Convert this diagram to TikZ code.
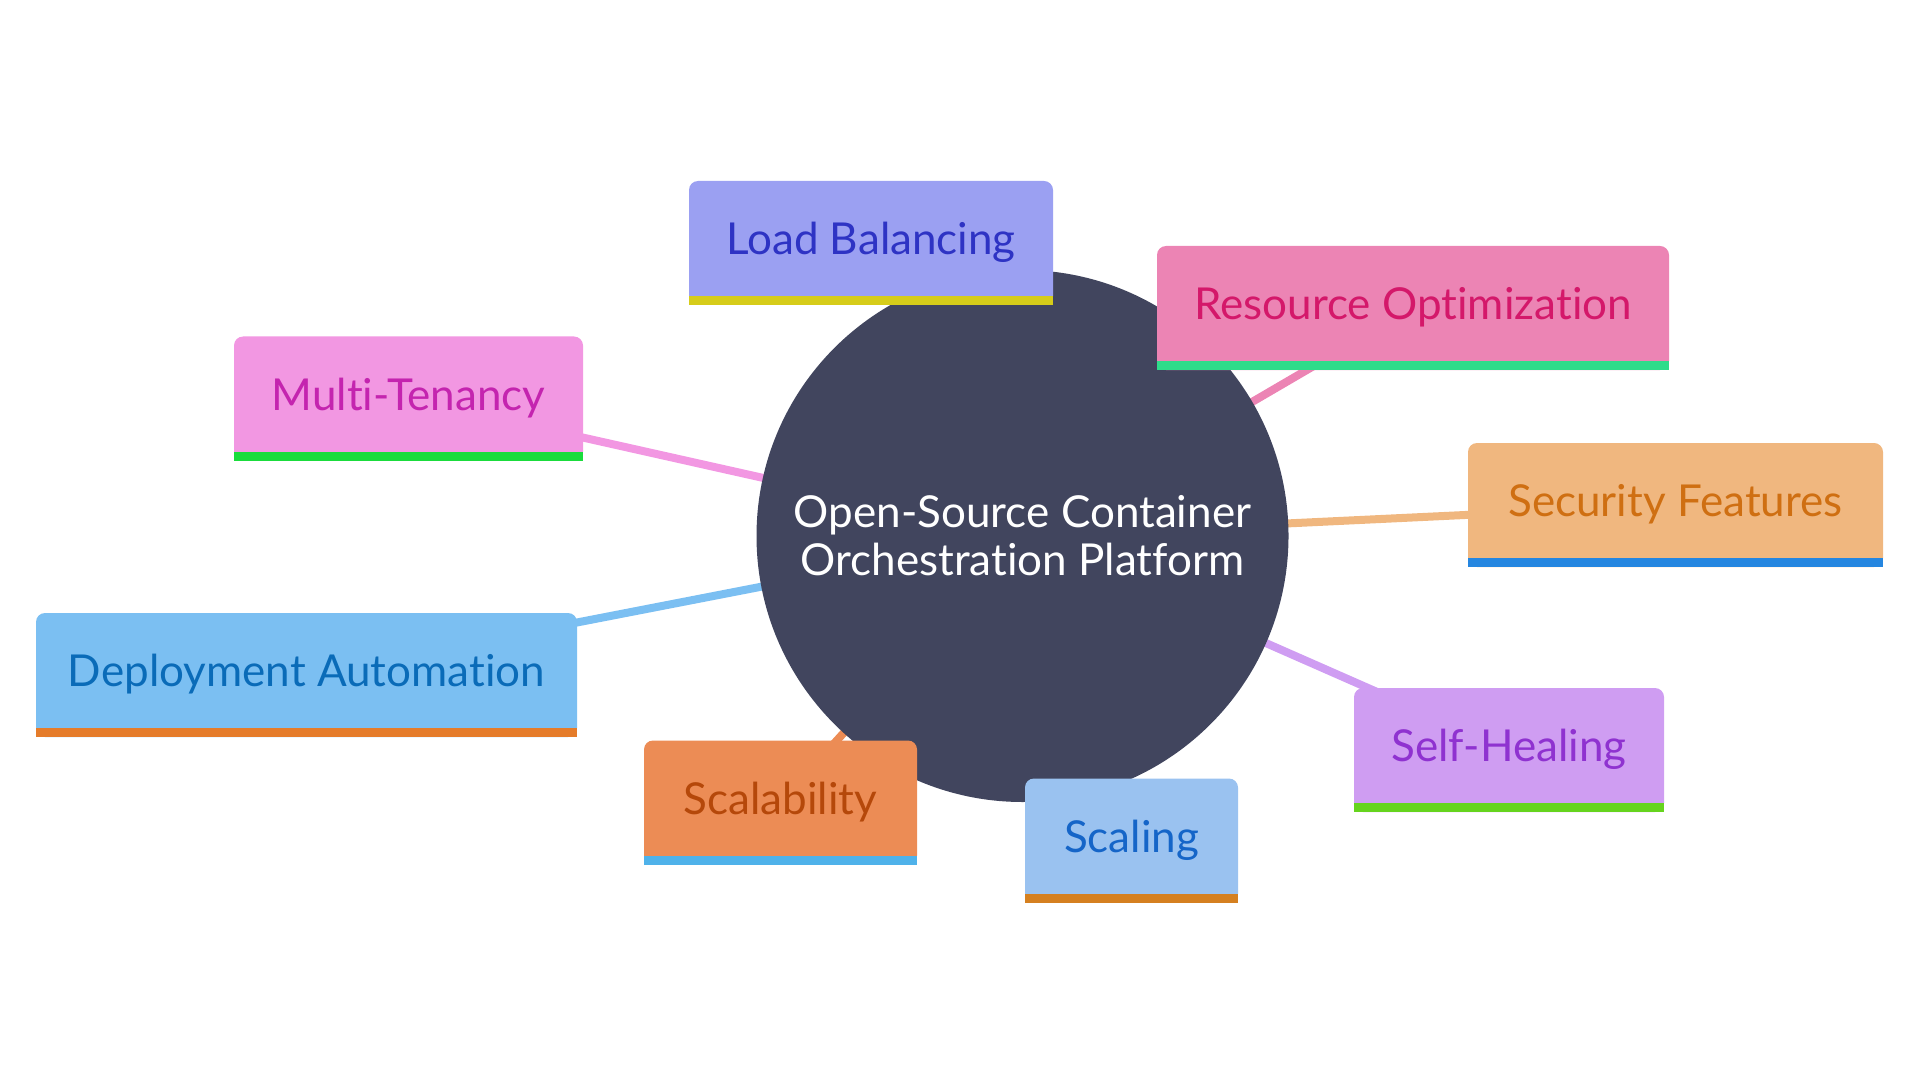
\documentclass[tikz,border=0pt]{standalone}
\usepackage{fontspec}
\setmainfont{Lato}[Ligatures=NoCommon]
\usetikzlibrary{backgrounds}
\definecolor{hubC}{RGB}{65,69,94}
\definecolor{lbF}{RGB}{155,160,242}\definecolor{lbT}{RGB}{46,51,196}\definecolor{lbB}{RGB}{214,204,26}
\definecolor{roF}{RGB}{236,132,180}\definecolor{roT}{RGB}{212,24,106}\definecolor{roB}{RGB}{46,220,138}
\definecolor{mtF}{RGB}{242,151,226}\definecolor{mtT}{RGB}{196,36,175}\definecolor{mtB}{RGB}{26,220,60}
\definecolor{sfF}{RGB}{240,183,127}\definecolor{sfT}{RGB}{207,111,18}\definecolor{sfB}{RGB}{37,134,224}
\definecolor{daF}{RGB}{123,191,242}\definecolor{daT}{RGB}{10,107,184}\definecolor{daB}{RGB}{229,124,42}
\definecolor{shF}{RGB}{207,157,242}\definecolor{shT}{RGB}{143,50,208}\definecolor{shB}{RGB}{102,212,30}
\definecolor{scF}{RGB}{236,140,85}\definecolor{scT}{RGB}{181,72,10}\definecolor{scB}{RGB}{79,178,234}
\definecolor{sgF}{RGB}{154,194,240}\definecolor{sgT}{RGB}{21,101,200}\definecolor{sgB}{RGB}{213,128,32}
\tikzset{
  topic/.style={rectangle, rounded corners=4.5pt, minimum height=62pt, inner sep=0pt,
    font=\fontsize{22}{26}\selectfont, text height=16pt, text depth=4.5pt},
  conn/.style={line width=4pt},
  hubnode/.style={circle, fill=hubC, minimum size=266pt, inner sep=0pt, text=white,
    align=center, font=\fontsize{22}{24}\selectfont}
}
\begin{document}
\begin{tikzpicture}[x=0.5pt,y=-0.5pt]
\useasboundingbox (0,0) rectangle (1920,1080);
\node[hubnode] (hub) at (1022.5,536) {Open-Source Container\\Orchestration Platform};

\node[topic, fill=lbF, text=lbT, minimum width=182pt] (lb) at (871,243) {Load Balancing};
\fill[lbB] (lb.south west) rectangle ([yshift=4.5pt]lb.south east);

\node[topic, fill=roF, text=roT, minimum width=256pt] (ro) at (1413,308) {Resource Optimization};
\fill[roB] (ro.south west) rectangle ([yshift=4.5pt]ro.south east);

\node[topic, fill=mtF, text=mtT, minimum width=174.5pt] (mt) at (408.5,398.5) {Multi-Tenancy};
\fill[mtB] (mt.south west) rectangle ([yshift=4.5pt]mt.south east);

\node[topic, fill=sfF, text=sfT, minimum width=207.5pt] (sf) at (1675.5,505) {Security Features};
\fill[sfB] (sf.south west) rectangle ([yshift=4.5pt]sf.south east);

\node[topic, fill=daF, text=daT, minimum width=270.5pt] (da) at (306.5,675) {Deployment Automation};
\fill[daB] (da.south west) rectangle ([yshift=4.5pt]da.south east);

\node[topic, fill=shF, text=shT, minimum width=155pt] (sh) at (1509,750) {Self-Healing};
\fill[shB] (sh.south west) rectangle ([yshift=4.5pt]sh.south east);

\node[topic, fill=scF, text=scT, minimum width=136.5pt] (sc) at (780.5,802.5) {Scalability};
\fill[scB] (sc.south west) rectangle ([yshift=4.5pt]sc.south east);

\node[topic, fill=sgF, text=sgT, minimum width=106.5pt] (sg) at (1131.5,840.5) {Scaling};
\fill[sgB] (sg.south west) rectangle ([yshift=4.5pt]sg.south east);

\begin{scope}[on background layer]
\draw[conn, lbF] (hub.center) -- (lb.center);
\draw[conn, roF] (hub.center) -- (ro.center);
\draw[conn, mtF] (hub.center) -- (mt.center);
\draw[conn, sfF] (hub.center) -- (sf.center);
\draw[conn, daF] (hub.center) -- (da.center);
\draw[conn, shF] (hub.center) -- (sh.center);
\draw[conn, scF] (hub.center) -- (sc.center);
\draw[conn, sgF] (hub.center) -- (sg.center);
\end{scope}
\end{tikzpicture}
\end{document}
